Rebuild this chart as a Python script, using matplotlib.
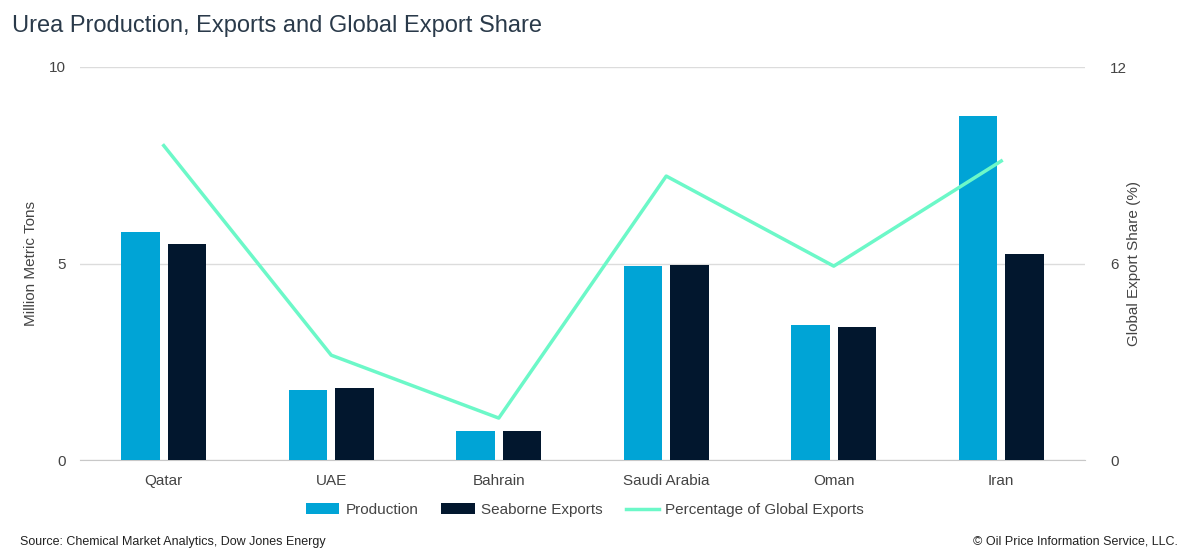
import numpy as np
import matplotlib.pyplot as plt

plt.rcParams['font.family'] = ['Liberation Sans', 'DejaVu Sans']

countries = ['Qatar', 'UAE', 'Bahrain', 'Saudi Arabia', 'Oman', 'Iran']
production = [5.8, 1.78, 0.74, 4.94, 3.44, 8.75]
exports = [5.5, 1.83, 0.74, 4.96, 3.38, 5.24]
share = [9.6, 3.2, 1.28, 8.67, 5.92, 9.13]

fig = plt.figure(figsize=(11.86, 5.57), dpi=100)
ax = fig.add_axes([80 / 1186, 97 / 557, 1005 / 1186, 393 / 557])
x = np.arange(len(countries))
w = 0.23
ax.bar(x - 0.14, production, w, color='#00a4d6', label='Production', zorder=3)
ax.bar(x + 0.14, exports, w, color='#02172e', label='Seaborne Exports', zorder=3)
ax.set_ylim(0, 10)
ax.set_yticks([0, 5, 10])
ax.set_xlim(-0.5, 5.5)
ax.set_xticks(x)
ax.set_xticklabels(countries)
ax.grid(axis='y', color='#dcdcdc', lw=1, zorder=0)
ax.set_ylabel('Million Metric Tons', color='#444444', fontsize=11, labelpad=8)
for s in ax.spines.values():
    s.set_visible(False)
ax.spines['bottom'].set_visible(True)
ax.spines['bottom'].set_color('#c8c8c8')
ax.tick_params(length=0, labelsize=11, colors='#444444', pad=10)

ax2 = ax.twinx()
ax2.plot(x, share, color='#6cf8c8', lw=2.5, label='Percentage of Global Exports', zorder=4)
ax2.set_ylim(0, 12)
ax2.set_yticks([0, 6, 12])
ax2.set_ylabel('Global Export Share (%)', color='#444444', fontsize=11, labelpad=0)
for s in ax2.spines.values():
    s.set_visible(False)
ax2.tick_params(length=0, labelsize=11, colors='#444444', pad=18)

h1, l1 = ax.get_legend_handles_labels()
h2, l2 = ax2.get_legend_handles_labels()
fig.legend(h1 + h2, l1 + l2, loc='center', bbox_to_anchor=(585 / 1186, 1 - 510 / 557),
           ncol=3, frameon=False, fontsize=11, labelcolor='#444444',
           handlelength=2.2, handletextpad=0.4, columnspacing=1.5)

fig.text(12 / 1186, 1 - 26 / 557, 'Urea Production, Exports and Global Export Share',
         fontsize=17, color='#2a3a4a', va='center')
fig.text(20 / 1186, 1 - 542 / 557, 'Source: Chemical Market Analytics, Dow Jones Energy',
         fontsize=9, color='#222222', va='center')
fig.text(1178 / 1186, 1 - 542 / 557, '© Oil Price Information Service, LLC.',
         fontsize=9, color='#222222', va='center', ha='right')

fig.savefig('out.png', dpi=100)
